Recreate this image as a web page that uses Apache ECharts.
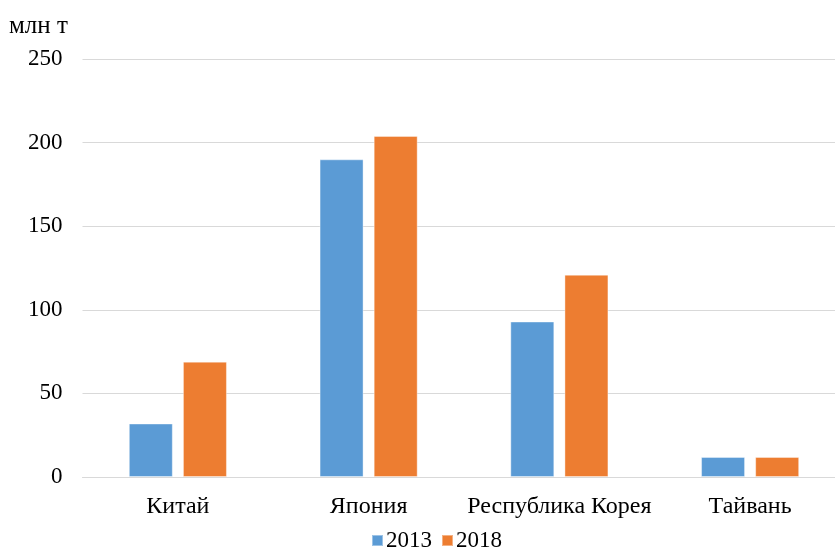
<!DOCTYPE html>
<html>
<head>
<meta charset="utf-8">
<script src="https://cdn.jsdelivr.net/npm/echarts@6/dist/echarts.min.js"></script>
<style>
  html, body { margin: 0; padding: 0; background: #ffffff; overflow: hidden; }
  /* the plot area runs slightly past the right edge of the window */
  #chart { width: 850px; height: 550px; }
</style>
</head>
<body>
<div id="chart"></div>
<script>
// Countries on the x axis
const categories = ['Китай', 'Япония', 'Республика Корея', 'Тайвань'];
// Values, million tonnes
const values2013 = [32, 190, 93, 12];
const values2018 = [69, 204, 121, 12];
const seriesNames = ['2013', '2018'];

const FONT = '"Liberation Serif", "Times New Roman", serif';

const chart = echarts.init(document.getElementById('chart'), null, { renderer: 'canvas' });

chart.setOption({
  backgroundColor: '#ffffff',
  animation: false,
  title: {
    text: 'млн т',
    left: 4,
    top: 9,
    textStyle: { fontFamily: FONT, fontSize: 25, fontWeight: 'normal', color: '#000000' }
  },
  legend: {
    data: seriesNames,
    left: 366,
    top: 524,
    itemWidth: 11,
    itemHeight: 11,
    itemGap: 9,
    icon: 'rect',
    textStyle: { fontFamily: FONT, fontSize: 23, color: '#000000', padding: [0, 0, 0, -2] }
  },
  grid: {
    left: 82.5,
    top: 59,
    width: 763,
    height: 418,
    containLabel: false
  },
  xAxis: {
    type: 'category',
    data: categories,
    axisLine: { lineStyle: { color: '#d9d9d9', width: 1 } },
    axisTick: { show: false },
    axisLabel: { interval: 0, fontFamily: FONT, fontSize: 24, color: '#000000', margin: 18 }
  },
  yAxis: {
    type: 'value',
    min: 0,
    max: 250,
    interval: 50,
    axisLine: { show: false },
    axisTick: { show: false },
    splitLine: { lineStyle: { color: '#d9d9d9', width: 1 } },
    axisLabel: { fontFamily: FONT, fontSize: 23, color: '#000000', margin: 20 }
  },
  series: [
    {
      name: seriesNames[0],
      type: 'bar',
      data: values2013,
      barWidth: 44,
      barGap: '23%',
      itemStyle: { color: '#5b9bd5', borderColor: 'rgba(255,255,255,0.4)', borderWidth: 1 }
    },
    {
      name: seriesNames[1],
      type: 'bar',
      data: values2018,
      barWidth: 44,
      barGap: '23%',
      itemStyle: { color: '#ed7d31', borderColor: 'rgba(255,255,255,0.4)', borderWidth: 1 }
    }
  ]
});
</script>
</body>
</html>
